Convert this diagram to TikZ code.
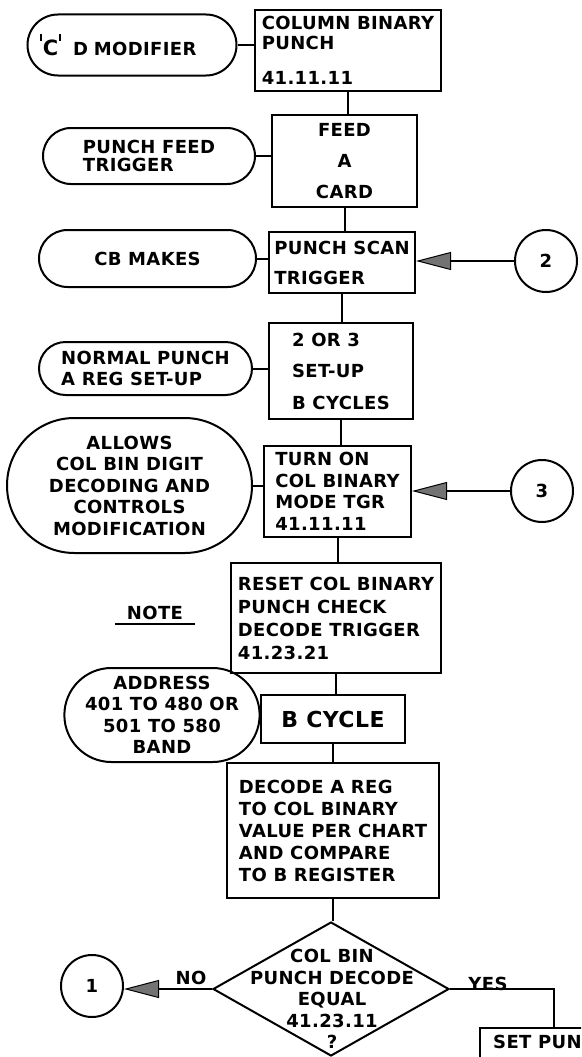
\documentclass[tikz,border=0pt]{standalone}
\usepackage{fontspec}
\newfontfamily\letterfont{DejaVu Sans}[LetterSpace=2]
\usetikzlibrary{arrows.meta}
\usetikzlibrary{shapes.misc, shapes.geometric}
\begin{document}
\begin{tikzpicture}[x=1pt, y=-1pt,
  every node/.style={font=\letterfont\bfseries\fontsize{18}{21.5}\selectfont},
  procbox/.style={draw, line width=2pt, align=left, inner sep=0pt},
  termbox/.style={draw, rounded rectangle, line width=2pt, inner sep=0pt},
  connbox/.style={draw, circle, line width=2pt, minimum size=62pt, inner sep=0pt},
  decbox/.style={draw, diamond, line width=2pt, inner sep=0pt},
  flowline/.style={line width=2pt},
  flowarrow/.style={line width=2pt, -{Triangle[length=35pt, width=18pt, fill=black!55, line width=1pt]}}
]
\def\W{581}%page width
\def\H{1057}%page height
\def\tick{\raisebox{15pt}{\rule{1.8pt}{7pt}}}%mark over C
\useasboundingbox (0,0) rectangle (\W,\H);
\clip (0,0) rectangle (\W,\H);

% left hand notes
\node[termbox, align=left, text width=184pt, minimum width=209pt, minimum height=61pt] (cmod) at (132,45)
  {\tick\kern1pt{\fontsize{21}{21}\selectfont C}\kern1pt\tick\ \ D MODIFIER};
\node[termbox, align=left, minimum width=212pt, minimum height=56pt] (pfeed) at (149,156)
  {PUNCH FEED\\[-3pt]TRIGGER};
\node[termbox, minimum width=217pt, minimum height=57pt] (cbmk) at (147.5,258.5) {CB MAKES};
\node[termbox, align=left, minimum width=213pt, minimum height=53pt] (nreg) at (145.5,368.5)
  {NORMAL PUNCH\\A REG SET-UP};
\node[termbox, align=center, minimum width=245pt, minimum height=135pt] (allow) at (129.5,485.5)
  {ALLOWS\\COL BIN DIGIT\\DECODING AND\\CONTROLS\\MODIFICATION};
\node[termbox, align=center, minimum width=168pt, minimum height=94pt] (addr) at (162,715)
  {ADDRESS\\401 TO 480 OR\\501 TO 580\\BAND};

% main column
\node[procbox, minimum width=186pt, minimum height=81pt] (cbp) at (348,50.5)
  {COLUMN BINARY\\[-1.5pt]PUNCH\\[13.5pt]41.11.11};
\node[procbox, align=center, minimum width=145pt, minimum height=92pt] (feed) at (344.5,161)
  {FEED\\[9.5pt]A\\[9.5pt]CARD};
\node[procbox, minimum width=146pt, minimum height=61pt] (scan) at (342,262.5)
  {PUNCH SCAN\\[8.5pt]TRIGGER};
\node[procbox, minimum width=144pt, minimum height=96pt] (setb) at (341,371)
  {2 OR 3\\[10pt]SET-UP\\[10pt]B CYCLES};
\node[procbox, minimum width=147pt, minimum height=91pt] (mode) at (337.5,491.5)
  {TURN ON\\COL BINARY\\MODE TGR\\41.11.11};
\node[procbox, minimum width=210pt, minimum height=110pt] (rst) at (336,618)
  {RESET COL BINARY\\[1.5pt]PUNCH CHECK\\[1.5pt]DECODE TRIGGER\\[1.5pt]41.23.21};
\node[procbox, minimum width=144pt, minimum height=48pt,
  font=\letterfont\bfseries\fontsize{22}{26}\selectfont] (bcyc) at (333,719) {B CYCLE};
\node[procbox, minimum width=212pt, minimum height=135pt] (dcd) at (333,830.5)
  {DECODE A REG\\[0.5pt]TO COL BINARY\\[0.5pt]VALUE PER CHART\\[0.5pt]AND COMPARE\\[0.5pt]TO B REGISTER};
\node[decbox, minimum width=236pt, minimum height=134pt] (dec) at (331,989) {};
\node[align=center] (dectxt) at (332,999) {COL BIN\\PUNCH DECODE\\EQUAL\\41.23.11\\?};
\node[procbox, anchor=north, minimum width=148pt, minimum height=60pt] (setp) at (554,1027) {};
\node[anchor=west, inner sep=0pt] (setptxt) at (493,1042) {SET PUN};

% note
\node[inner xsep=12pt, inner ysep=4pt] (note) at (155,613) {NOTE};
\draw[flowline] (note.south west) -- (note.south east);

% connectors
\node[connbox] (c2) at (546,261) {2};
\node[connbox] (c3) at (542,491) {3};
\node[connbox] (c1) at (92,986) {1};

\foreach \a/\b in {cbp/feed, feed/scan, scan/setb, setb/mode, mode/rst, rst/bcyc, bcyc/dcd, dcd/dec}
  \draw[flowline] (\a.south) -- (\a.south |- \b.north);
\foreach \t/\b in {cmod/cbp, pfeed/feed, cbmk/scan, nreg/setb, allow/mode, addr/bcyc}
  \draw[flowline] (\t.east) -- (\t.east -| \b.west);

\draw[flowarrow] (c2) -- (c2 -| scan.east);
\draw[flowarrow] (c3) -- (c3 -| mode.east);
\draw[flowarrow] (dec.west) -- (dec.west -| c1.east);
\draw[flowline] (dec.east) -| (setp.north);

\node (no) at (191,978) {NO};
\node (yes) at (488,984) {YES};
\end{tikzpicture}
\end{document}
